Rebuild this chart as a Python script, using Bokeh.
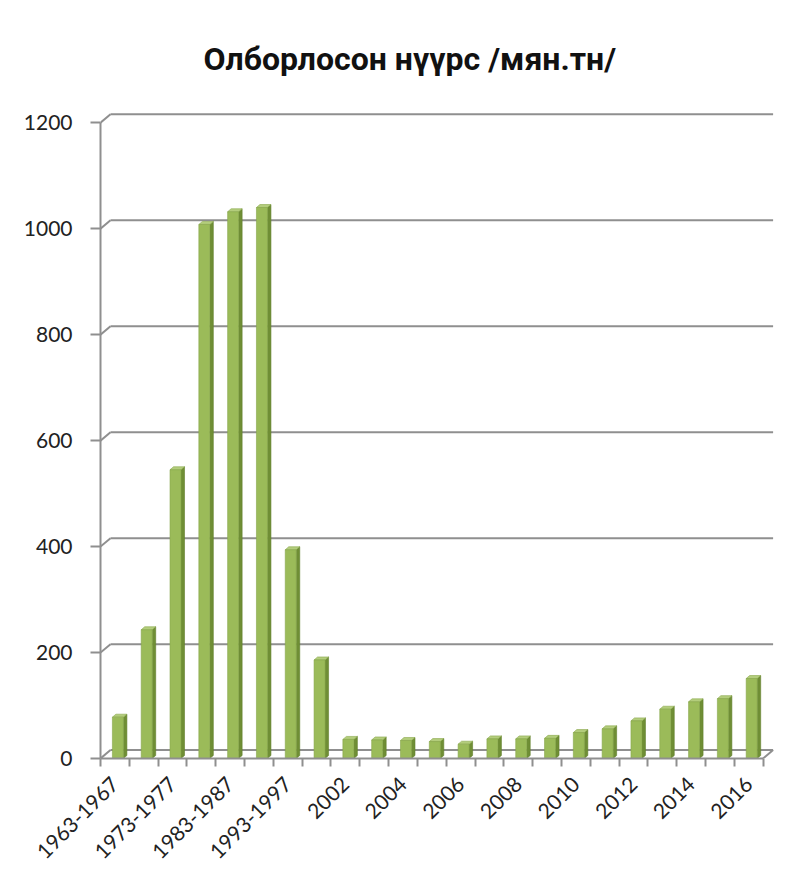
import math
from bokeh.plotting import figure
from bokeh.models import Range1d, FixedTicker
from bokeh.embed import file_html
from bokeh.resources import INLINE

# ---- data ----
categories = ["1963-1967", "1968-1972", "1973-1977", "1978-1982", "1983-1987",
              "1988-1992", "1993-1997", "1998-2001", "2002", "2003", "2004",
              "2005", "2006", "2007", "2008", "2009", "2010", "2011", "2012",
              "2013", "2014", "2015", "2016"]
production = [78, 243, 545, 1008, 1032, 1040, 394, 186, 36, 35, 34, 32, 27,
              37, 37, 38, 49, 56, 71, 93, 107, 113, 151]
y_ticks = [0, 200, 400, 600, 800, 1000, 1200]
title_text = "Олборлосон нүүрс /мян.тн/"

# ---- layout ----
n = len(categories)
xs = list(range(1, n + 1))
X0, X1 = 0.5, n + 1.0
Y0, Y1 = 0, 1225
FW, FH = 677, 649
pxx = FW / (X1 - X0)
pxy = FH / (Y1 - Y0)

GRID = "#8f8f8f"
FONT = "Lato"

p = figure(width=779, height=876, frame_width=FW, frame_height=FH,
           x_range=Range1d(X0, X1), y_range=Range1d(Y0, Y1),
           output_backend="svg", toolbar_location=None,
           min_border_left=100, min_border_right=2, min_border_top=109,
           min_border_bottom=118)
p.outline_line_color = None
p.xgrid.visible = False
p.ygrid.visible = False
p.background_fill_color = "white"
p.border_fill_color = "white"

# title
p.title.text = title_text
p.title.text_font = "Roboto"
p.title.text_font_style = "bold"
p.title.text_font_size = "32px"
p.title.text_color = "#111111"
p.title.align = "left"
p.title.vertical_align = "top"
p.title.offset = 103
p.title.standoff = 60

# back wall gridlines (3D offset)
dxw = 10 / pxx
dyw = 8.4 / pxy
p.segment(x0=[X0 + dxw] * len(y_ticks), y0=[t + dyw for t in y_ticks],
          x1=[n + 0.5 + dxw] * len(y_ticks), y1=[t + dyw for t in y_ticks],
          line_color=GRID, line_width=2)
p.segment(x0=[X0] * len(y_ticks), y0=y_ticks,
          x1=[X0 + dxw] * len(y_ticks), y1=[t + dyw for t in y_ticks],
          line_color=GRID, line_width=2)
p.segment(x0=[n + 0.5], y0=[0], x1=[n + 0.5 + dxw], y1=[dyw],
          line_color=GRID, line_width=2)

# 3D bars
w = 11 / pxx
shift = 3 / pxx
dxb = 3.5 / pxx
dyb = 3 / pxy
cx = [x + shift for x in xs]
side_x, side_y, top_x, top_y = [], [], [], []
for c, v in zip(cx, production):
    r = c + w / 2
    l = c - w / 2
    side_x.append([r, r + dxb, r + dxb, r])
    side_y.append([0, dyb, v + dyb, v])
    top_x.append([l, r, r + dxb, l + dxb])
    top_y.append([v, v, v + dyb, v + dyb])
p.patches(side_x, side_y, fill_color="#6f8e35", line_color="#62802c", line_width=0.6)
p.patches(top_x, top_y, fill_color="#b3cd7c", line_color="#8aa84c", line_width=0.6)
p.vbar(x=cx, top=production, bottom=0, width=w, fill_color="#9bbb59",
       line_color="#87a64a", line_width=0.6)

# y axis
ya = p.yaxis[0]
ya.ticker = FixedTicker(ticks=y_ticks, minor_ticks=[])
ya.bounds = (0, 1200)
ya.axis_line_color = GRID
ya.axis_line_width = 2
ya.major_tick_line_color = GRID
ya.major_tick_line_width = 2
ya.major_tick_out = 10
ya.major_tick_in = 0
ya.major_label_standoff = 18
ya.major_label_text_font = FONT
ya.major_label_text_font_size = "21px"
ya.major_label_text_color = "#222222"

# x axis
xa = p.xaxis[0]
shown = xs[::2]
xa.ticker = FixedTicker(ticks=shown, minor_ticks=[k + 0.5 for k in range(n + 1)])
xa.major_label_overrides = {x: categories[x - 1] for x in shown}
xa.bounds = (0.5, n + 0.5)
xa.axis_line_color = GRID
xa.axis_line_width = 2
xa.major_tick_line_color = None
xa.major_tick_out = 8
xa.major_tick_in = 0
xa.minor_tick_line_color = GRID
xa.minor_tick_line_width = 2
xa.minor_tick_out = 8
xa.minor_tick_in = 0
xa.major_label_orientation = math.pi / 4
xa.major_label_standoff = 14
xa.major_label_text_font = FONT
xa.major_label_text_font_size = "21px"
xa.major_label_text_color = "#222222"

open("out.html", "w").write(file_html(p, INLINE))
